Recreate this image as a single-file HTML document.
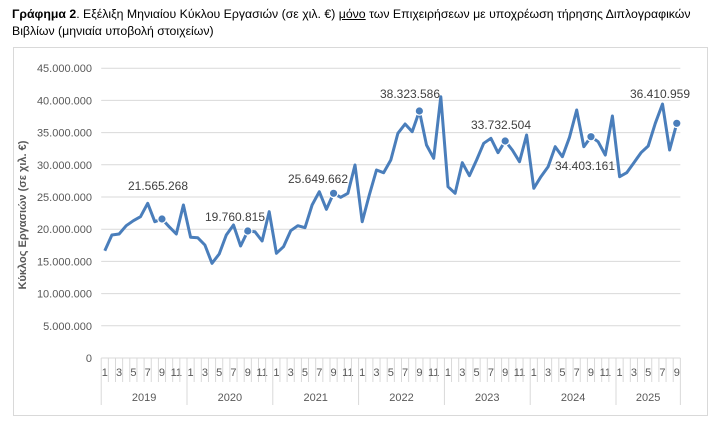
<!DOCTYPE html>
<html><head><meta charset="utf-8"><style>
body{margin:0;background:#fff;width:711px;height:432px;overflow:hidden;font-family:"Liberation Sans","DejaVu Sans",sans-serif}
.t{position:absolute;left:12px;top:6px;font-size:12.3px;line-height:17px;color:#000;width:700px}
</style></head><body>
<div class="t"><b>Γράφημα 2</b>. Εξέλιξη Μηνιαίου Κύκλου Εργασιών (σε χιλ. €) <u>μόνο</u> των Επιχειρήσεων με υποχρέωση τήρησης Διπλογραφικών Βιβλίων (μηνιαία υποβολή στοιχείων)</div>
<svg id="s" width="711" height="432" style="position:absolute;left:0;top:0" xmlns="http://www.w3.org/2000/svg" font-family="Liberation Sans, DejaVu Sans, sans-serif"></svg>
<script>
var s=document.getElementById('s'),h='';
h+='<rect x="13.5" y="47.5" width="694" height="368" fill="none" stroke="#d9d9d9"/>';
var L=101.2,W=7.15,R=L+81*W;
for(var k=0;k<=9;k++){var y=358-k*32.2;h+='<line x1="'+L+'" x2="'+R+'" y1="'+y+'" y2="'+y+'" stroke="#d9d9d9"/>';
var lab=k==0?'0':(k*5)+'.000.000';h+='<text x="92" y="'+(y+4)+'" font-size="11" fill="#595959" text-anchor="end">'+lab+'</text>';}
for(var i=0;i<=81;i++){var x=L+i*W,yr=(i%12==0||i==81);h+='<line x1="'+x+'" x2="'+x+'" y1="358" y2="'+(yr?405:382)+'" stroke="#d9d9d9"/>';
if(i<81&&i%2==0)h+='<text x="'+(x+W/2)+'" y="376" font-size="11" fill="#595959" text-anchor="middle">'+(i%12+1)+'</text>';}
var yrs=['2019','2020','2021','2022','2023','2024','2025'];
for(var j=0;j<7;j++){var a=L+j*12*W,b=j==6?R:a+12*W;h+='<text x="'+((a+b)/2)+'" y="401" font-size="11" fill="#595959" text-anchor="middle">'+yrs[j]+'</text>';}
h+='<text transform="translate(26,215) rotate(-90)" font-size="11" font-weight="bold" fill="#595959" text-anchor="middle">Κύκλος Εργασιών (σε χιλ. €)</text>';
var Y=[250.7,235,234,225.7,220.7,216.7,203.3,221.7,219,226.7,234,205,237.3,237.7,245,263.3,254,235,225,246,231,231.7,241,211.7,253.3,246.7,230.7,225.7,227.7,205,191.7,209.3,193.3,197.3,193.3,165,221.7,195,170,172.7,160,133.3,124,131.7,111,145,158.3,96.7,186.7,193.3,162.7,175.7,160,143.3,138.3,152.7,141,150,161.7,135,188.3,176.7,166.7,146.7,156.7,137.3,110,146.7,136.7,141.7,155,116,176.7,172.7,162.7,152.7,146,123.3,104,150,123.3];
var p=Y.map(function(v,i){return (L+(i+.5)*W).toFixed(1)+','+v}).join(' ');
h+='<polyline points="'+p+'" fill="none" stroke="#4a7ebb" stroke-width="3" stroke-linejoin="round"/>';
[8,20,32,44,56,68,80].forEach(function(i){h+='<circle cx="'+(L+(i+.5)*W)+'" cy="'+Y[i]+'" r="4.2" fill="#4a7ebb" stroke="#fff" stroke-width="1.2"/>';});
[['21.565.268',158,190],['19.760.815',235,221],['25.649.662',318,183],['38.323.586',410,98],['33.732.504',501,129],['34.403.161',585,170],['36.410.959',660,98]].forEach(function(d){h+='<text x="'+d[1]+'" y="'+d[2]+'" font-size="12" fill="#404040" text-anchor="middle">'+d[0]+'</text>';});
s.innerHTML=h;
</script>
</body></html>
